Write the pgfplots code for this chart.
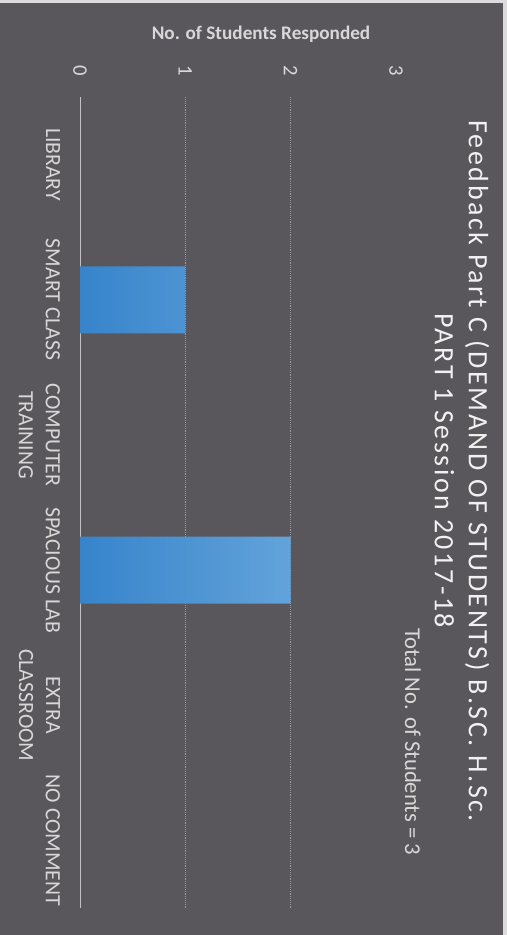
\documentclass[border=0pt]{standalone}
\usepackage{pgfplots}
\pgfplotsset{compat=1.18}
\usepackage{pgfplotstable}
\usepackage{fontspec}
\setmainfont{Carlito}
\newfontfamily\titlefont{Carlito}[LetterSpace=9]

\definecolor{bg}{HTML}{5A575C}
\definecolor{paper}{HTML}{DCDCDC}
\definecolor{barL}{HTML}{3784CB}
\definecolor{barR}{HTML}{62A3DA}
\definecolor{txt}{HTML}{D8D8D8}
\definecolor{gridc}{HTML}{9A989C}

% 1 px of the reference = 0.75pt
% cat: 0 NO COMMENT, 1 EXTRA CLASSROOM, 2 SPACIOUS LAB, 3 COMPUTER TRAINING, 4 SMART CLASS, 5 LIBRARY
\pgfplotstableread{
cat count
0 0
1 0
2 2
3 0
4 1
5 0
}\demand

\begin{document}
\begin{tikzpicture}
\fill[paper] (0,0) rectangle (380.25pt,-701.25pt);
\fill[bg] (0,-2.25pt) rectangle (377.25pt,-701.25pt);
\useasboundingbox (0,0) rectangle (380.25pt,-701.25pt);
\begin{axis}[
  at={(60pt,-681pt)}, anchor=south west,
  scale only axis, width=237pt, height=608.25pt,
  xbar, bar width=50.25pt,
  xmin=0, xmax=3, ymin=-0.5, ymax=5.5,
  axis x line*=top, axis y line*=left,
  x axis line style={draw=none},
  y axis line style={draw=gridc!60!white, line width=0.6pt},
  tick style={draw=none},
  xtick={0,1,2,3},
  /pgf/number format/assume math mode=true,
  xticklabel style={rotate=-90, anchor=center, inner sep=0pt, text=txt, font=\fontsize{15.5}{18}\selectfont},
  xticklabel shift=20pt,
  extra x ticks={1,2}, extra x tick labels={},
  extra x tick style={grid=major, major grid style={draw=gridc, densely dotted, line width=0.6pt}},
  ytick={0,...,5},
  yticklabels={NO COMMENT, {EXTRA\\CLASSROOM}, SPACIOUS LAB, {COMPUTER\\TRAINING}, SMART CLASS, LIBRARY},
  yticklabel style={rotate=-90, anchor=north, align=center, inner sep=0pt, text=txt, font=\fontsize{16.3}{20.3}\selectfont},
  yticklabel shift=10.5pt,
]
\addplot[draw=none, left color=barL, right color=barR, restrict x to domain=0.5:3] table[x=count, y=cat] {\demand};
\end{axis}
\node[anchor=base, text=txt, font=\bfseries\fontsize{14.4}{17}\selectfont] at (195.75pt,-29.6pt) {No. of Students Responded};
\node[rotate=-90, align=center, text=white!92!bg, font=\titlefont\fontsize{21}{25.5}\selectfont] at (346.5pt,-353.25pt) {Feedback Part C (DEMAND OF STUDENTS) B.SC. H.Sc.\\PART 1 Session 2017-18};
\node[rotate=-90, anchor=base, text=txt, font=\fontsize{17}{20}\selectfont] at (303.75pt,-556.5pt) {Total No. of Students = 3};
\end{tikzpicture}
\end{document}
